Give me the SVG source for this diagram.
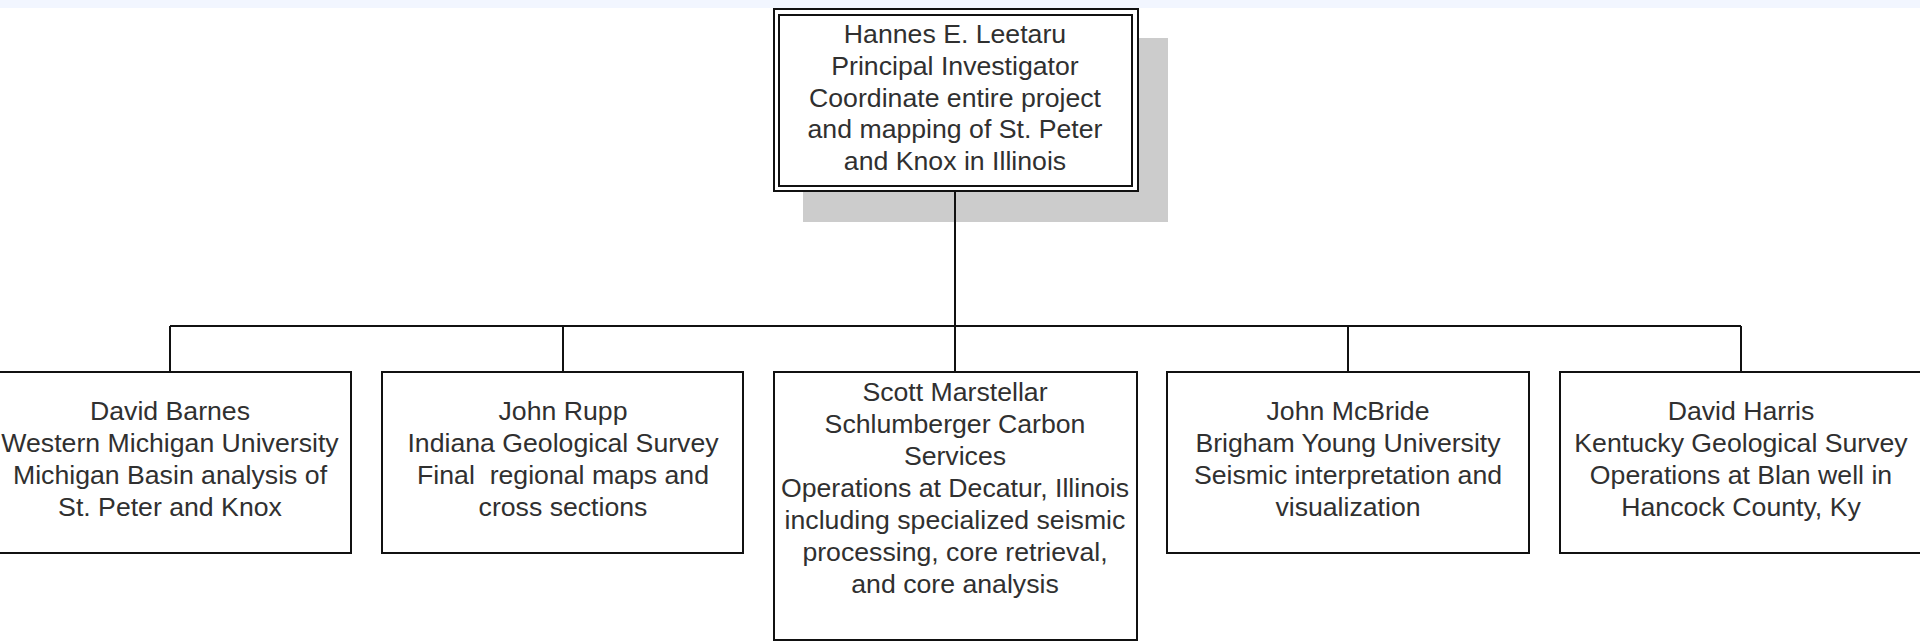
<svg xmlns="http://www.w3.org/2000/svg" width="1920" height="643" viewBox="0 0 1920 643">
<style>
.box{fill:#ffffff;stroke:#111111;stroke-width:2}
.conn{fill:none;stroke:#111111;stroke-width:2}
text{font-family:"Liberation Sans",Arial,sans-serif;font-size:26.67px;fill:#303030;text-anchor:middle;white-space:pre}
</style>
<rect x="0" y="0" width="1920" height="8" fill="#f2f6ff"/>
<g id="connectors">
<path class="conn" d="M955,191 V372 M170,326 H1741 M170,326 V372 M563,326 V372 M1348,326 V372 M1741,326 V372"/>
</g>
<g id="node-leetaru">
<rect x="803" y="38" width="365" height="184" fill="#cccccc"/>
<rect class="box" x="774" y="9" width="364" height="182"/>
<rect class="box" x="779" y="15" width="353" height="171"/>
<path class="conn" d="M955,191 V222"/>
<text x="955" y="43">Hannes E. Leetaru</text>
<text x="955" y="75">Principal Investigator</text>
<text x="955" y="107">Coordinate entire project</text>
<text x="955" y="138">and mapping of St. Peter</text>
<text x="955" y="170">and Knox in Illinois</text>
</g>
<g id="node-barnes">
<rect class="box" x="-12" y="372" width="363" height="181"/>
<text x="170" y="420">David Barnes</text>
<text x="170" y="452">Western Michigan University</text>
<text x="170" y="484">Michigan Basin analysis of</text>
<text x="170" y="516">St. Peter and Knox</text>
</g>
<g id="node-rupp">
<rect class="box" x="382" y="372" width="361" height="181"/>
<text x="563" y="420">John Rupp</text>
<text x="563" y="452">Indiana Geological Survey</text>
<text x="563" y="484">Final  regional maps and</text>
<text x="563" y="516">cross sections</text>
</g>
<g id="node-marstellar">
<rect class="box" x="774" y="372" width="363" height="268"/>
<text x="955" y="401">Scott Marstellar</text>
<text x="955" y="433">Schlumberger Carbon</text>
<text x="955" y="465">Services</text>
<text x="955" y="497">Operations at Decatur, Illinois</text>
<text x="955" y="529">including specialized seismic</text>
<text x="955" y="561">processing, core retrieval,</text>
<text x="955" y="593">and core analysis</text>
</g>
<g id="node-mcbride">
<rect class="box" x="1167" y="372" width="362" height="181"/>
<text x="1348" y="420">John McBride</text>
<text x="1348" y="452">Brigham Young University</text>
<text x="1348" y="484">Seismic interpretation and</text>
<text x="1348" y="516">visualization</text>
</g>
<g id="node-harris">
<rect class="box" x="1560" y="372" width="363" height="181"/>
<text x="1741" y="420">David Harris</text>
<text x="1741" y="452">Kentucky Geological Survey</text>
<text x="1741" y="484">Operations at Blan well in</text>
<text x="1741" y="516">Hancock County, Ky</text>
</g>
</svg>
